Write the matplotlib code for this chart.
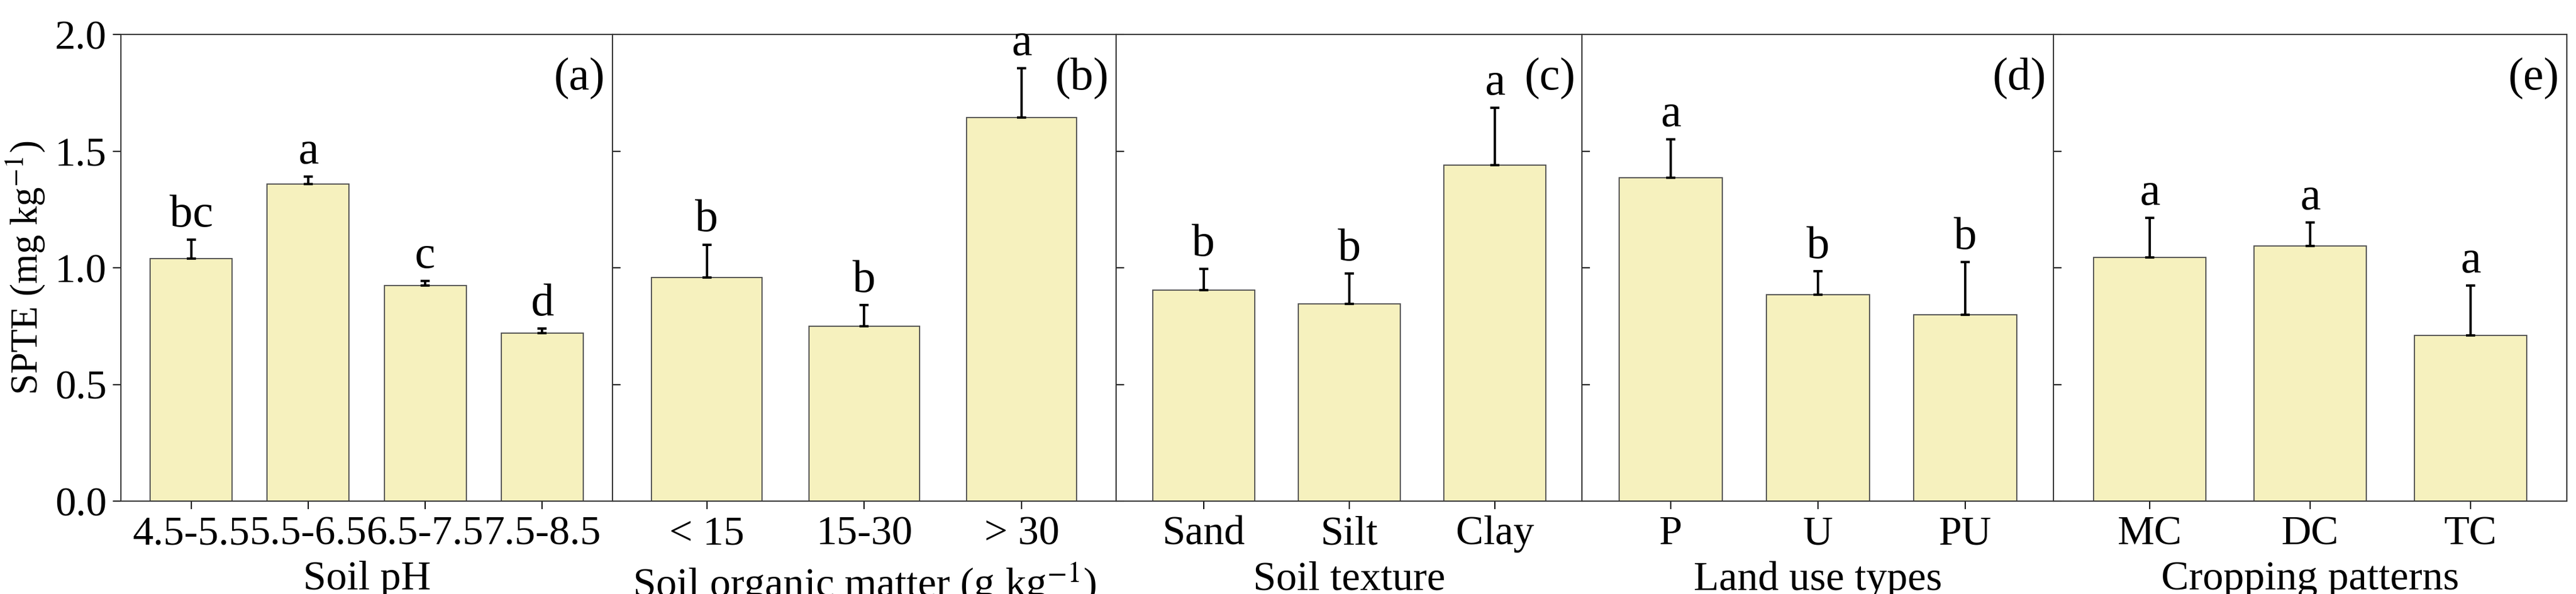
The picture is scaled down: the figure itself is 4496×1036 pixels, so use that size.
import matplotlib
matplotlib.use("Agg")
import matplotlib.pyplot as plt

plt.rcParams['font.family'] = ['Liberation Serif', 'DejaVu Serif']
plt.rcParams['mathtext.fontset'] = 'stix'

cats = [["4.5-5.5", "5.5-6.5", "6.5-7.5", "7.5-8.5"],
        ["< 15", "15-30", "> 30"],
        ["Sand", "Silt", "Clay"],
        ["P", "U", "PU"],
        ["MC", "DC", "TC"]]
vals = [[1.04, 1.36, 0.925, 0.72],
        [0.96, 0.75, 1.645],
        [0.905, 0.845, 1.44],
        [1.385, 0.885, 0.80],
        [1.045, 1.095, 0.71]]
errs = [[0.08, 0.03, 0.02, 0.02],
        [0.14, 0.09, 0.21],
        [0.09, 0.13, 0.245],
        [0.165, 0.10, 0.225],
        [0.17, 0.10, 0.215]]
letters = [["bc", "a", "c", "d"], ["b", "b", "a"], ["b", "b", "a"],
           ["a", "b", "b"], ["a", "a", "a"]]
xlabels = ["Soil pH", "Soil organic matter (g kg$^{-1}$)", "Soil texture",
           "Land use types", "Cropping patterns"]
panels = ["(a)", "(b)", "(c)", "(d)", "(e)"]

fig = plt.figure(figsize=(44.96, 10.36), dpi=100)
gs = fig.add_gridspec(1, 5, width_ratios=[858, 880, 814, 823, 897], wspace=0,
                      left=0.047, right=0.9965, top=0.942, bottom=0.156)
fs = 52
for i in range(5):
    ax = fig.add_subplot(gs[0, i])
    n = len(cats[i])
    x = list(range(n))
    ax.bar(x, vals[i], width=0.7, color="#F6F1BE", edgecolor="#555555", linewidth=1.5, zorder=2)
    ax.errorbar(x, vals[i], yerr=[[0]*n, errs[i]], fmt="none", ecolor="black",
                elinewidth=3, capsize=6, capthick=3, zorder=3)
    for xi, v, e, t in zip(x, vals[i], errs[i], letters[i]):
        ax.text(xi, v + e + 0.015, t, ha="center", va="bottom", fontsize=fs + 6)
    ax.set_xlim(-0.6, n - 0.4)
    ax.set_ylim(0, 2.0)
    ax.set_xticks(x)
    ax.set_xticklabels(cats[i], fontsize=fs)
    ax.set_xlabel(xlabels[i], fontsize=fs, labelpad=10)
    ax.text(0.985, 0.95, panels[i], transform=ax.transAxes, ha="right", va="top", fontsize=fs + 6)
    ax.set_yticks([0, 0.5, 1.0, 1.5, 2.0])
    ax.tick_params(axis="both", direction="out", length=10, width=1.5, pad=8)
    if i == 0:
        ax.set_yticklabels(["0.0", "0.5", "1.0", "1.5", "2.0"], fontsize=fs)
        ax.set_ylabel("SPTE (mg kg$^{-1}$)", fontsize=fs - 4, labelpad=10)
    else:
        ax.tick_params(axis="y", direction="in", labelleft=False)
    for s in ax.spines.values():
        s.set_linewidth(1.5)
        s.set_color("#333333")

fig.savefig("out.png", dpi=100)
